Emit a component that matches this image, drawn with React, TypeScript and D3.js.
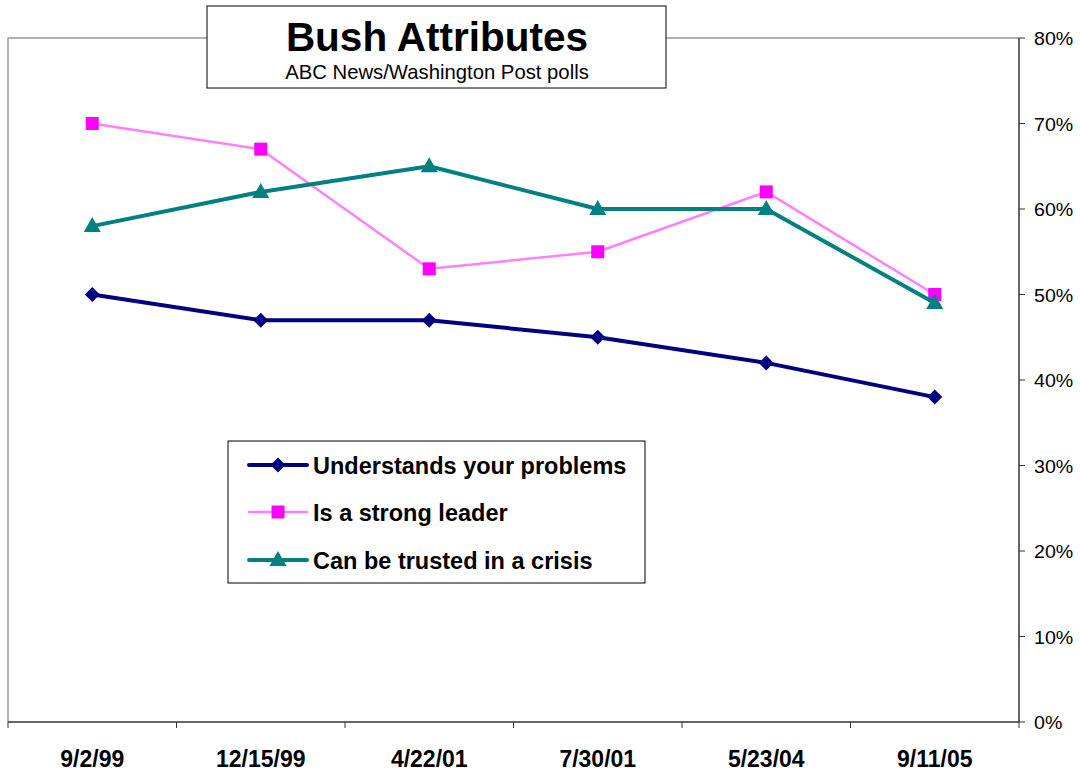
import React from "react";
import * as d3 from "d3";

const categories = ["9/2/99", "12/15/99", "4/22/01", "7/30/01", "5/23/04", "9/11/05"];
const understands = [50, 47, 47, 45, 42, 38];
const strongLeader = [70, 67, 53, 55, 62, 50];
const trusted = [58, 62, 65, 60, 60, 49];
const yTicks = [0, 10, 20, 30, 40, 50, 60, 70, 80];

const W = 1080, H = 771;
const L = 8, R = 1019, T = 38, B = 722;
const FONT = "'Liberation Sans', Arial, sans-serif";

type Series = { name: string; values: number[]; line: string; marker: string; width: number; shape: "diamond" | "square" | "triangle" };
const series: Series[] = [
  { name: "Understands your problems", values: understands, line: "#000080", marker: "#000080", width: 4, shape: "diamond" },
  { name: "Is a strong leader", values: strongLeader, line: "#FF80FF", marker: "#FF00FF", width: 2.5, shape: "square" },
  { name: "Can be trusted in a crisis", values: trusted, line: "#008080", marker: "#008080", width: 4, shape: "triangle" },
];

function Marker({ shape, x, y, color }: { shape: string; x: number; y: number; color: string }) {
  if (shape === "diamond") {
    const s = 7.5;
    return <path d={`M${x},${y - s}L${x + s},${y}L${x},${y + s}L${x - s},${y}Z`} fill={color} />;
  }
  if (shape === "square") {
    const s = 6.5;
    return <rect x={x - s} y={y - s} width={2 * s} height={2 * s} fill={color} />;
  }
  const w = 8.5, h = 15;
  return <path d={`M${x},${y - h * 0.6}L${x + w},${y + h * 0.4}L${x - w},${y + h * 0.4}Z`} fill={color} />;
}

export default function App() {
  const band = d3.scaleBand<string>().domain(categories).range([L, R]).padding(0);
  const x = (c: string) => (band(c) ?? 0) + band.bandwidth() / 2;
  const y = d3.scaleLinear().domain([0, 80]).range([B, T]);
  const line = d3.line<number>().x((_, i) => x(categories[i])).y((v) => y(v));
  const boundaries = d3.range(categories.length + 1).map((i) => L + i * band.bandwidth());

  const legendRows = [465, 512, 560];

  return (
    <svg width={W} height={H} style={{ position: "absolute", left: 0, top: 0, background: "#fff" }} fontFamily={FONT}>
      <rect x={0} y={0} width={W} height={H} fill="#fff" />
      {/* plot frame */}
      <line x1={L} y1={T} x2={R} y2={T} stroke="#999" strokeWidth={1.5} />
      <line x1={L} y1={T} x2={L} y2={B} stroke="#999" strokeWidth={1.5} />
      <line x1={L} y1={B} x2={R} y2={B} stroke="#333" strokeWidth={1.5} />
      <line x1={R} y1={T} x2={R} y2={B} stroke="#333" strokeWidth={1.5} />
      {/* x ticks */}
      {boundaries.map((bx, i) => (
        <line key={i} x1={bx} y1={B} x2={bx} y2={B + 6} stroke="#333" strokeWidth={1} />
      ))}
      {categories.map((c) => (
        <text key={c} x={x(c)} y={766.5} textAnchor="middle" fontWeight="bold" fontSize={23} fill="#000">{c}</text>
      ))}
      {/* y ticks */}
      {yTicks.map((t) => (
        <g key={t}>
          <line x1={R} y1={y(t)} x2={R + 6} y2={y(t)} stroke="#333" strokeWidth={1} />
          <text x={0} y={0} transform={`translate(1034,${y(t) + 7}) scale(1.06,1)`} fontSize={18.5} fill="#000">{t}%</text>
        </g>
      ))}
      {/* series */}
      {series.map((s) => (
        <g key={s.name}>
          <path d={line(s.values) ?? ""} fill="none" stroke={s.line} strokeWidth={s.width} strokeLinejoin="round" />
          {s.values.map((v, i) => (
            <Marker key={i} shape={s.shape} x={x(categories[i])} y={y(v)} color={s.marker} />
          ))}
        </g>
      ))}
      {/* title box */}
      <rect x={207} y={6} width={459} height={82} fill="#fff" stroke="#000" strokeWidth={1} />
      <text x={437} y={51} textAnchor="middle" fontWeight="bold" fontSize={40.5} fill="#000">Bush Attributes</text>
      <text x={437} y={79} textAnchor="middle" fontSize={20.3} fill="#000">ABC News/Washington Post polls</text>
      {/* legend */}
      <rect x={228} y={441} width={417} height={142} fill="#fff" stroke="#000" strokeWidth={1} />
      {series.map((s, i) => (
        <g key={s.name}>
          <line x1={249} y1={legendRows[i]} x2={307} y2={legendRows[i]} stroke={s.line} strokeWidth={s.width} strokeLinecap="round" />
          <Marker shape={s.shape} x={278} y={legendRows[i]} color={s.marker} />
          <text x={313} y={legendRows[i] + 8.5} fontWeight="bold" fontSize={23.5} fill="#000">{s.name}</text>
        </g>
      ))}
    </svg>
  );
}
